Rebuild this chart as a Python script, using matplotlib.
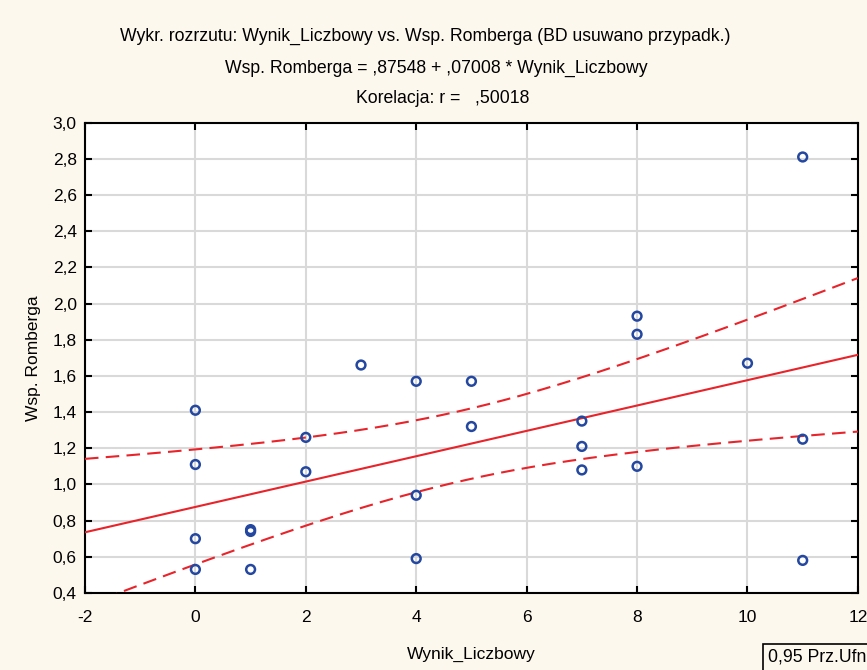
import matplotlib.pyplot as plt
import numpy as np

plt.rcParams['font.family'] = ['Liberation Sans', 'DejaVu Sans']

# Wynik_Liczbowy vs. Wsp. Romberga
wynik = [0, 0, 0, 0, 1, 1, 1, 2, 2, 3, 4, 4, 4, 5, 5,
         7, 7, 7, 8, 8, 8, 10, 11, 11, 11]
romberg = [1.41, 1.11, 0.70, 0.53, 0.75, 0.74, 0.53, 1.26, 1.07, 1.66,
           1.57, 0.94, 0.59, 1.57, 1.32, 1.35, 1.21, 1.08, 1.93, 1.83,
           1.10, 1.67, 2.81, 1.25, 0.58]

intercept = 0.87548
slope = 0.07008
r_text = ',50018'
conf_label = '0,95 Prz.Ufn'

xticks = [-2, 0, 2, 4, 6, 8, 10, 12]
yticks = [0.4, 0.6, 0.8, 1.0, 1.2, 1.4, 1.6, 1.8, 2.0, 2.2, 2.4, 2.6, 2.8, 3.0]

x = np.array(wynik, dtype=float)
y = np.array(romberg)
n = len(x)

# 95% confidence band for the fitted line
resid = y - (intercept + slope * x)
s = np.sqrt(np.sum(resid ** 2) / (n - 2))
t_crit = 2.0687  # t(0.975, df=23)
xs = np.linspace(-2, 12, 200)
fit = intercept + slope * xs
half = t_crit * s * np.sqrt(1 / n + (xs - x.mean()) ** 2 / np.sum((x - x.mean()) ** 2))

bg = '#fdf8ee'
fig = plt.figure(figsize=(8.67, 6.70), dpi=100, facecolor=bg)
ax = fig.add_axes([0.098, 0.115, 0.8915, 0.702])
ax.set_facecolor('white')

ax.plot(xs, fit, color='#e8232a', lw=1.5, zorder=3)
ax.plot(xs, fit + half, color='#e8232a', lw=1.5, ls=(0, (6.5, 3.5)), zorder=3)
ax.plot(xs, fit - half, color='#e8232a', lw=1.5, ls=(0, (6.5, 3.5)), zorder=3)
ax.scatter(x, y, s=40, facecolors='none', edgecolors='#2447a0', linewidths=1.8, zorder=4)

ax.set_xlim(-2, 12)
ax.set_ylim(0.4, 3.0)
ax.set_xticks(xticks)
ax.set_yticks(yticks)
ax.set_xticklabels([str(v) for v in xticks])
ax.set_yticklabels([f'{v:.1f}'.replace('.', ',') for v in yticks])
ax.grid(True, color='#d9d9d9', lw=1.5)
ax.set_axisbelow(True)
ax.tick_params(direction='in', length=5, width=1.5, top=True, right=True,
               labelsize=12.5, colors='black')
ax.tick_params(axis='x', pad=12)
ax.tick_params(axis='y', pad=6)
for sp in ax.spines.values():
    sp.set_linewidth(1.5)
    sp.set_color('black')

ax.set_xlabel('Wynik_Liczbowy', fontsize=12.5, labelpad=16)
ax.set_ylabel('Wsp. Romberga', fontsize=12.5, labelpad=8)

fig.text(0.49, 0.945, 'Wykr. rozrzutu: Wynik_Liczbowy vs. Wsp. Romberga (BD usuwano przypadk.)',
         ha='center', va='center', fontsize=12.7)
fig.text(0.503, 0.898, f'Wsp. Romberga = ,{intercept:.5f} + ,{slope:.5f} * Wynik_Liczbowy'.replace(',0.', ','),
         ha='center', va='center', fontsize=12.7)
fig.text(0.511, 0.853, f'Korelacja: r =   {r_text}', ha='center', va='center', fontsize=12.7)

fig.text(0.886, 0.006, conf_label, ha='left', va='bottom', fontsize=12.7,
         bbox=dict(boxstyle='square,pad=0.3', facecolor=bg, edgecolor='black', lw=1.2))

fig.savefig('out.png', dpi=100, facecolor=bg)
